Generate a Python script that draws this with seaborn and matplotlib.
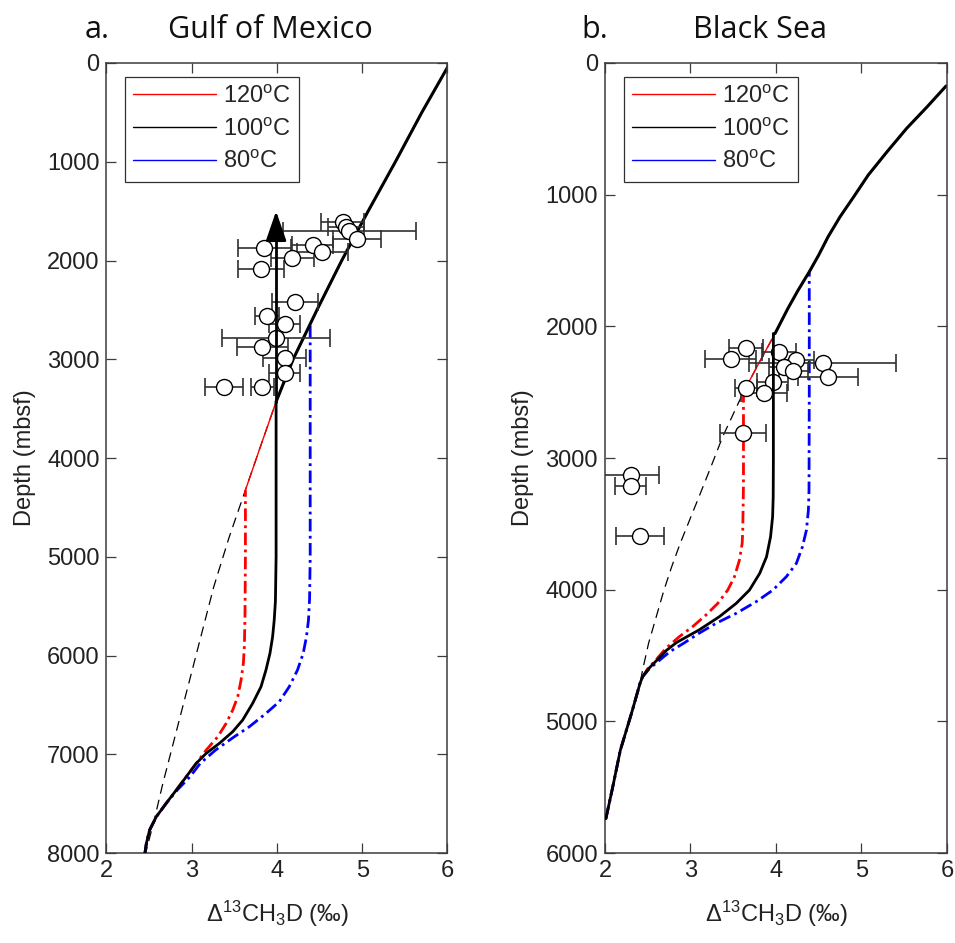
import numpy as np
import matplotlib
matplotlib.use("Agg")
import matplotlib.pyplot as plt
import seaborn as sns
from matplotlib import font_manager
from matplotlib.lines import Line2D

# ---------------- Gulf of Mexico ----------------
# equilibrium Δ13CH3D along the geotherm (depth in mbsf)
gom_eq_depth = [0, 500, 1000, 1500, 2000, 2500, 3000, 3430, 3900, 4325,
                4800, 5300, 5800, 6300, 6800, 7300, 7630, 8000]
gom_eq_val = [6.03, 5.70, 5.39, 5.07, 4.76, 4.47, 4.19, 3.99, 3.80, 3.63,
              3.44, 3.26, 3.11, 2.96, 2.81, 2.66, 2.57, 2.46]

# closure trajectories (from the deepest point upward to the closure point)
gom_120_depth = [8020, 7902, 7767, 7632, 7497, 7362, 7227, 7092, 6957, 6822, 6687,
                 6552, 6417, 6248, 6079, 5900, 5600, 5000, 4325]
gom_120_val = [2.448, 2.468, 2.506, 2.585, 2.70, 2.819, 2.936, 3.053, 3.17, 3.306, 3.404,
               3.481, 3.54, 3.579, 3.606, 3.618, 3.625, 3.63, 3.63]
gom_100_depth = [8020, 7902, 7767, 7632, 7497, 7362, 7227, 7092, 6990, 6889, 6771,
                 6653, 6484, 6316, 6147, 5978, 5810, 5641, 5450, 5000, 4000, 3430]
gom_100_val = [2.448, 2.468, 2.506, 2.585, 2.70, 2.819, 2.936, 3.053, 3.17, 3.325, 3.481,
               3.598, 3.715, 3.813, 3.871, 3.918, 3.949, 3.968, 3.982, 3.99, 3.99, 3.99]
gom_80_depth = [8020, 7902, 7767, 7632, 7497, 7362, 7227, 7092, 6957, 6822, 6721,
                6586, 6468, 6316, 6147, 5978, 5810, 5641, 5420, 5000, 4000, 3000, 2636]
gom_80_val = [2.448, 2.468, 2.506, 2.585, 2.70, 2.83, 2.98, 3.10, 3.28, 3.50, 3.676,
              3.871, 4.027, 4.144, 4.241, 4.308, 4.346, 4.37, 4.383, 4.39, 4.39, 4.39, 4.39]
gom_arrow_depth = [3430, 1700]   # vertical 100 °C trajectory continued upward
gom_arrow_tip = 1500

# measured samples
gom_d13 = [4.77, 4.81, 4.85, 4.94, 3.85, 4.42, 4.53, 4.18, 3.81, 4.21,
           3.88, 4.09, 3.99, 3.83, 4.09, 4.09, 3.38, 3.83]
gom_depth = [1607, 1658, 1698, 1785, 1870, 1843, 1917, 1978, 2089, 2423,
             2559, 2643, 2788, 2873, 2990, 3136, 3284, 3278]
gom_err = [0.25, 0.21, 0.78, 0.28, 0.31, 0.24, 0.30, 0.25, 0.27, 0.27,
           0.14, 0.18, 0.63, 0.30, 0.25, 0.18, 0.22, 0.14]

# ---------------- Black Sea ----------------
bs_eq_depth = [175, 332, 496, 674, 851, 1016, 1168, 1320, 1459, 1586, 1725,
               1864, 1978, 2054, 2280, 2500, 2838, 3066, 3294, 3471, 3648,
               3826, 4003, 4205, 4407, 4610, 4711, 4939, 5218, 5500, 5740]
bs_eq_val = [5.99, 5.77, 5.53, 5.30, 5.08, 4.91, 4.75, 4.61, 4.50, 4.39, 4.26,
             4.14, 4.05, 3.99, 3.80, 3.62, 3.377, 3.24, 3.10, 2.99, 2.88,
             2.78, 2.69, 2.60, 2.51, 2.44, 2.41, 2.31, 2.18, 2.09, 2.01]

bs_120_depth = [5740, 5500, 5218, 4939, 4711, 4661, 4600, 4534, 4445, 4357, 4281,
                4192, 4104, 4003, 3901, 3775, 3648, 3547, 3200, 2500]
bs_120_val = [2.01, 2.09, 2.18, 2.31, 2.41, 2.44, 2.50, 2.595, 2.713, 2.869, 3.025,
              3.182, 3.319, 3.436, 3.515, 3.573, 3.605, 3.612, 3.62, 3.62]
bs_100_depth = [5740, 5500, 5218, 4939, 4711, 4661, 4600, 4540, 4460, 4400, 4306,
                4205, 4104, 4003, 3876, 3750, 3598, 3446, 3294, 3000, 2054]
bs_100_val = [2.01, 2.09, 2.18, 2.31, 2.41, 2.44, 2.51, 2.60, 2.72, 2.84, 3.10,
              3.338, 3.535, 3.69, 3.81, 3.89, 3.937, 3.961, 3.968, 3.97, 3.97]
bs_80_depth = [5740, 5500, 5218, 4939, 4711, 4661, 4600, 4540, 4470, 4407, 4331,
               4255, 4180, 4091, 4003, 3901, 3800, 3674, 3547, 3395, 3243, 2500, 1586]
bs_80_val = [2.01, 2.09, 2.18, 2.31, 2.41, 2.44, 2.52, 2.63, 2.76, 2.92, 3.10,
             3.30, 3.534, 3.769, 3.964, 4.122, 4.239, 4.31, 4.357, 4.38, 4.387, 4.39, 4.39]

bs_d13 = [3.65, 3.47, 4.04, 4.24, 4.55, 4.09, 4.20, 4.61, 3.96, 3.65,
          3.86, 3.61, 2.30, 2.30, 2.41]
bs_depth = [2167, 2250, 2197, 2256, 2281, 2306, 2337, 2382, 2420, 2471,
            2509, 2812, 3129, 3210, 3590]
bs_err = [0.20, 0.30, 0.20, 0.20, 0.86, 0.17, 0.17, 0.35, 0.18, 0.13,
          0.27, 0.27, 0.33, 0.18, 0.28]

legend_labels = ["120$^{\\rm o}$C", "100$^{\\rm o}$C", "80$^{\\rm o}$C"]
x_ticks = [2, 3, 4, 5, 6]

# ---------------- style ----------------
sns.set_style("ticks")
available = {f.name for f in font_manager.fontManager.ttflist}
main_font = "Liberation Sans Narrow" if "Liberation Sans Narrow" in available else "Liberation Sans"
title_font = "Open Sans" if "Open Sans" in available else "DejaVu Sans"
plt.rcParams["font.family"] = [main_font, "DejaVu Sans"]
plt.rcParams["mathtext.fontset"] = "custom"
plt.rcParams["mathtext.rm"] = main_font
plt.rcParams["mathtext.it"] = main_font
plt.rcParams["mathtext.bf"] = main_font

RED, BLUE, BLACK = "#ff0000", "#0000ff", "#000000"
DASHDOT = (0, (4.5, 1.6, 1.0, 1.6))
SPINE = "#3c3c3c"


def curve(ax, x, y, **kw):
    sns.lineplot(x=np.asarray(x, float), y=np.asarray(y, float), sort=False,
                 estimator=None, ax=ax, legend=False, **kw)


def eq_above(eq_d, eq_v, d_close):
    d = np.asarray(eq_d, float)
    v = np.asarray(eq_v, float)
    keep = d < d_close
    v_close = np.interp(d_close, d, v)
    return np.append(d[keep], d_close), np.append(v[keep], v_close)


def panel(ax, eq_d, eq_v, c120, c100, c80, d13, depth, err, ymax, yticks):
    # equilibrium reference (thin dashed)
    curve(ax, eq_v, eq_d, color=BLACK, lw=0.9, linestyle=(0, (8, 5)), zorder=2)
    # trajectories along equilibrium above their closure points
    for (cd, cv), col in ((c120, RED), (c80, BLUE)):
        dd, vv = eq_above(eq_d, eq_v, cd[-1])
        curve(ax, vv, dd, color=col, lw=1.0, zorder=2.2)
    dd, vv = eq_above(eq_d, eq_v, c100[0][-1])
    curve(ax, vv, dd, color=BLACK, lw=2.2, zorder=2.5)
    # closure trajectories
    curve(ax, c120[1], c120[0], color=RED, lw=2.0, linestyle=DASHDOT, zorder=2.3)
    curve(ax, c80[1], c80[0], color=BLUE, lw=2.0, linestyle=DASHDOT, zorder=2.3)
    curve(ax, c100[1], c100[0], color=BLACK, lw=2.0, zorder=5)

    # samples
    ax.errorbar(d13, depth, xerr=err, fmt="none", ecolor="#303030",
                elinewidth=1.2, capsize=6.5, capthick=1.2, zorder=3)
    sns.scatterplot(x=d13, y=depth, ax=ax, s=11.5 ** 2, marker="o",
                    color="white", edgecolor="black", linewidth=1.0,
                    zorder=4, legend=False)

    ax.set_xlim(2, 6)
    ax.set_ylim(ymax, 0)
    ax.set_xticks(x_ticks)
    ax.set_yticks(yticks)
    ax.tick_params(direction="in", length=7, width=0.9, top=True, right=True,
                   labelsize=17, color=SPINE, labelcolor="#222222", pad=5)
    for s in ax.spines.values():
        s.set_color(SPINE)
        s.set_linewidth(1.1)
    ax.set_xlabel("Δ$^{13}$CH$_3$D (‰)", fontsize=17, labelpad=12, color="#222222")
    ax.set_ylabel("Depth (mbsf)", fontsize=17, labelpad=8, color="#222222")

    handles = [Line2D([], [], color=RED, lw=1.0),
               Line2D([], [], color=BLACK, lw=1.0),
               Line2D([], [], color=BLUE, lw=1.0)]
    leg = ax.legend(handles, legend_labels, loc="upper left",
                    bbox_to_anchor=(0.055, 0.982), fontsize=17,
                    handlelength=3.5, handletextpad=0.3, labelspacing=0.45,
                    borderpad=0.35, fancybox=False, framealpha=1,
                    edgecolor="#303030", borderaxespad=0)
    leg.get_frame().set_linewidth(0.9)


fig = plt.figure(figsize=(9.55, 9.43), dpi=100)
ax1 = fig.add_axes([0.1115, 0.0954, 0.357, 0.8378])
ax2 = fig.add_axes([0.6335, 0.0954, 0.358, 0.8378])

panel(ax1, gom_eq_depth, gom_eq_val,
      (gom_120_depth, gom_120_val), (gom_100_depth, gom_100_val), (gom_80_depth, gom_80_val),
      gom_d13, gom_depth, gom_err, 8000, np.arange(0, 8001, 1000))
# upward continuation of the 100 °C trajectory with arrow head
x_arrow = gom_100_val[-1]
curve(ax1, [x_arrow, x_arrow], gom_arrow_depth, color=BLACK, lw=2.0, zorder=5)
ax1.annotate("", xy=(x_arrow, gom_arrow_tip), xytext=(x_arrow, gom_arrow_depth[-1]),
             arrowprops=dict(arrowstyle="-|>,head_length=1.3,head_width=0.45",
                             mutation_scale=14, color=BLACK, lw=2.0,
                             shrinkA=0, shrinkB=0), zorder=6)

panel(ax2, bs_eq_depth, bs_eq_val,
      (bs_120_depth, bs_120_val), (bs_100_depth, bs_100_val), (bs_80_depth, bs_80_val),
      bs_d13, bs_depth, bs_err, 6000, np.arange(0, 6001, 1000))

fig.text(97 / 955, 1 - 30 / 943, "a.", ha="center", va="center", fontsize=22,
         family=title_font, color="#111111")
fig.text(270 / 955, 1 - 30 / 943, "Gulf of Mexico", ha="center", va="center",
         fontsize=22, family=title_font, color="#111111")
fig.text(595 / 955, 1 - 30 / 943, "b.", ha="center", va="center", fontsize=22,
         family=title_font, color="#111111")
fig.text(760 / 955, 1 - 30 / 943, "Black Sea", ha="center", va="center",
         fontsize=22, family=title_font, color="#111111")

fig.savefig("out.png", dpi=100)
